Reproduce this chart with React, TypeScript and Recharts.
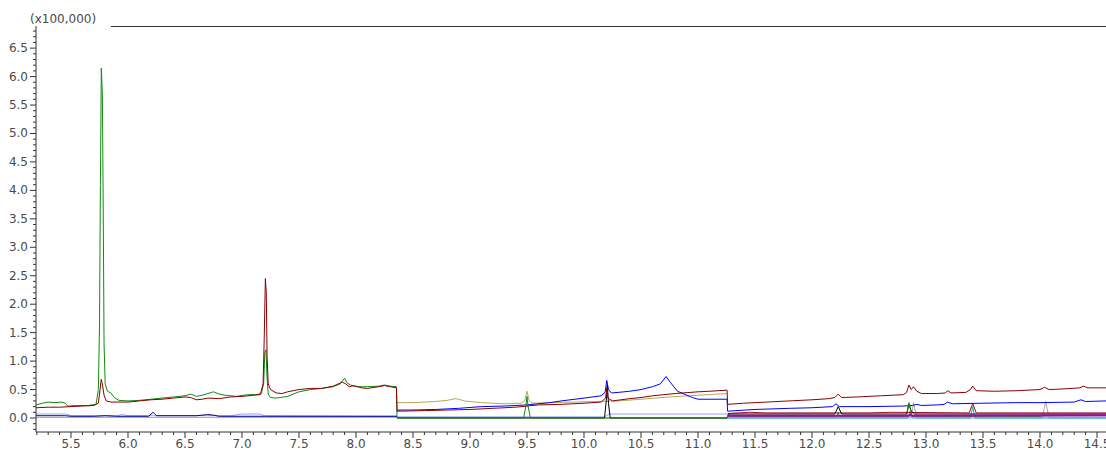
import { Line, LineChart, XAxis, YAxis } from 'recharts';

type Pt = [number, number];

// retention time window (min) and intensity window (x100,000)
const T_START = 5.193;
const T_END = 14.579;
const Y_MIN = -0.246;
const Y_MAX = 6.889;

const xLabels = ['5.5', '6.0', '6.5', '7.0', '7.5', '8.0', '8.5', '9.0', '9.5', '10.0', '10.5', '11.0', '11.5', '12.0', '12.5', '13.0', '13.5', '14.0', '14.5'];
const yLabels = ['0.0', '0.5', '1.0', '1.5', '2.0', '2.5', '3.0', '3.5', '4.0', '4.5', '5.0', '5.5', '6.0', '6.5'];

const greenTrace: Pt[] = [
  [5.193, 0.23], [5.25, 0.26], [5.3, 0.28], [5.36, 0.27], [5.42, 0.28], [5.45, 0.26], [5.47, 0.21],
  [5.55, 0.22], [5.65, 0.22], [5.72, 0.24], [5.74, 0.5], [5.75, 1.6], [5.758, 4.1], [5.766, 6.15],
  [5.775, 5.7], [5.783, 3.6], [5.79, 1.3], [5.8, 0.6], [5.82, 0.47], [5.85, 0.44], [5.88, 0.36],
  [5.92, 0.31], [6.0, 0.3], [6.1, 0.31], [6.2, 0.33], [6.3, 0.35], [6.4, 0.37], [6.5, 0.39],
  [6.55, 0.42], [6.6, 0.38], [6.65, 0.4], [6.7, 0.43], [6.75, 0.46], [6.8, 0.42], [6.85, 0.4],
  [6.95, 0.38], [7.05, 0.41], [7.12, 0.41], [7.17, 0.43], [7.19, 0.6], [7.2, 1.15], [7.21, 1.2],
  [7.22, 0.7], [7.23, 0.42], [7.25, 0.36], [7.3, 0.35], [7.4, 0.38], [7.5, 0.46], [7.6, 0.5],
  [7.7, 0.52], [7.8, 0.55], [7.86, 0.6], [7.9, 0.7], [7.92, 0.62], [7.95, 0.58], [8.0, 0.55],
  [8.1, 0.55], [8.2, 0.56], [8.25, 0.58], [8.3, 0.56], [8.355, 0.55], [8.36, 0.0], [9.47, 0.0],
  [9.49, 0.2], [9.5, 0.38], [9.51, 0.2], [9.53, 0.0], [11.255, 0.0], [11.26, 0.03], [12.22, 0.03],
  [12.23, 0.1], [12.24, 0.03], [12.83, 0.03], [12.85, 0.27], [12.87, 0.1], [12.88, 0.03],
  [14.0, 0.03], [14.1, 0.07], [14.579, 0.07],
];

const maroonTrace: Pt[] = [
  [5.193, 0.18], [5.3, 0.19], [5.4, 0.19], [5.5, 0.2], [5.6, 0.21], [5.7, 0.22], [5.74, 0.26],
  [5.755, 0.5], [5.765, 0.68], [5.775, 0.6], [5.79, 0.4], [5.81, 0.3], [5.85, 0.28], [6.0, 0.28],
  [6.1, 0.3], [6.2, 0.32], [6.3, 0.33], [6.4, 0.35], [6.5, 0.37], [6.55, 0.36], [6.6, 0.32],
  [6.65, 0.33], [6.7, 0.35], [6.8, 0.34], [6.9, 0.37], [7.0, 0.38], [7.1, 0.4], [7.16, 0.41],
  [7.185, 0.6], [7.195, 1.4], [7.205, 2.45], [7.213, 2.2], [7.22, 1.1], [7.23, 0.6], [7.25, 0.5],
  [7.3, 0.44], [7.35, 0.43], [7.4, 0.46], [7.5, 0.5], [7.6, 0.52], [7.7, 0.52], [7.8, 0.56],
  [7.88, 0.63], [7.91, 0.6], [7.94, 0.55], [7.98, 0.57], [8.05, 0.53], [8.1, 0.52], [8.2, 0.55],
  [8.25, 0.57], [8.3, 0.55], [8.355, 0.53], [8.36, 0.12], [8.6, 0.13], [8.8, 0.14], [9.0, 0.15],
  [9.2, 0.17], [9.4, 0.19], [9.6, 0.23], [9.8, 0.24], [10.0, 0.26], [10.15, 0.28], [10.19, 0.35],
  [10.2, 0.52], [10.21, 0.35], [10.25, 0.3], [10.4, 0.34], [10.5, 0.36], [10.6, 0.39], [10.8, 0.43],
  [11.0, 0.46], [11.1, 0.47], [11.255, 0.49], [11.26, 0.24], [11.4, 0.26], [11.6, 0.28],
  [11.8, 0.3], [12.0, 0.32], [12.15, 0.34], [12.2, 0.36], [12.23, 0.42], [12.26, 0.36],
  [12.4, 0.37], [12.6, 0.39], [12.8, 0.41], [12.83, 0.45], [12.85, 0.58], [12.87, 0.5],
  [12.89, 0.55], [12.92, 0.47], [12.96, 0.43], [13.1, 0.43], [13.17, 0.44], [13.19, 0.48],
  [13.22, 0.44], [13.35, 0.45], [13.39, 0.5], [13.41, 0.56], [13.44, 0.48], [13.6, 0.47],
  [13.8, 0.48], [14.0, 0.5], [14.04, 0.54], [14.08, 0.5], [14.2, 0.51], [14.35, 0.53],
  [14.38, 0.56], [14.42, 0.53], [14.579, 0.53],
];

const blueTrace: Pt[] = [
  [8.36, 0.14], [8.5, 0.14], [8.7, 0.15], [8.9, 0.17], [9.1, 0.2], [9.3, 0.21], [9.5, 0.23],
  [9.7, 0.27], [9.8, 0.3], [10.0, 0.35], [10.15, 0.39], [10.185, 0.45], [10.2, 0.66],
  [10.215, 0.5], [10.24, 0.44], [10.3, 0.45], [10.4, 0.47], [10.5, 0.5], [10.6, 0.55],
  [10.67, 0.6], [10.72, 0.73], [10.76, 0.62], [10.82, 0.47], [10.95, 0.36], [11.0, 0.33],
  [11.255, 0.33], [11.26, 0.12], [11.5, 0.15], [11.8, 0.17], [12.0, 0.18], [12.18, 0.2],
  [12.21, 0.25], [12.24, 0.2], [12.5, 0.2], [12.8, 0.21], [12.88, 0.22], [12.92, 0.24],
  [12.96, 0.22], [13.1, 0.23], [13.16, 0.24], [13.19, 0.28], [13.23, 0.25], [13.5, 0.26],
  [13.8, 0.27], [14.0, 0.27], [14.3, 0.28], [14.36, 0.32], [14.4, 0.29], [14.579, 0.3],
];

const oliveTrace: Pt[] = [
  [8.36, 0.27], [8.5, 0.27], [8.6, 0.28], [8.7, 0.29], [8.8, 0.31], [8.87, 0.34], [8.9, 0.33],
  [8.95, 0.3], [9.1, 0.27], [9.3, 0.25], [9.45, 0.26], [9.48, 0.3], [9.5, 0.47], [9.52, 0.3],
  [9.55, 0.26], [9.7, 0.27], [9.9, 0.28], [10.1, 0.29], [10.3, 0.3], [10.5, 0.33], [10.75, 0.37],
  [11.0, 0.4], [11.255, 0.43],
];

const navyTrace: Pt[] = [
  [5.193, 0.04], [5.45, 0.04], [5.5, 0.03], [5.7, 0.03], [5.8, 0.04], [5.9, 0.03], [6.18, 0.03],
  [6.22, 0.1], [6.25, 0.04], [6.6, 0.04], [6.7, 0.06], [6.75, 0.05], [6.8, 0.03], [7.2, 0.03],
  [8.36, 0.03],
];

const lavenderTrace: Pt[] = [
  [5.193, 0.07], [5.45, 0.07], [5.5, 0.04], [5.9, 0.04], [5.95, 0.06], [6.0, 0.04], [6.9, 0.04],
  [7.0, 0.07], [7.15, 0.07], [7.2, 0.04], [8.36, 0.03], [8.37, 0.02], [10.18, 0.02],
  [10.22, 0.07], [11.255, 0.07], [11.26, 0.02], [14.579, 0.02],
];

const greyTrace: Pt[] = [
  [5.193, 0.01], [8.36, 0.01], [11.26, 0.0], [12.87, 0.0], [12.89, 0.27], [12.92, 0.0],
  [14.02, 0.0], [14.05, 0.29], [14.08, 0.0], [14.579, 0.0],
];

const blackTrace: Pt[] = [
  [8.36, 0.0], [10.18, 0.0], [10.195, 0.3], [10.205, 0.58], [10.215, 0.25], [10.23, 0.0],
  [11.255, 0.0], [11.27, 0.07], [12.2, 0.07], [12.23, 0.2], [12.26, 0.07], [12.83, 0.07],
  [12.85, 0.25], [12.87, 0.12], [12.9, 0.07], [14.579, 0.07],
];

const redTrace: Pt[] = [
  [11.26, 0.08], [11.45, 0.1], [11.6, 0.09], [12.5, 0.09], [12.7, 0.1], [13.38, 0.09],
  [13.41, 0.26], [13.44, 0.09], [14.579, 0.09],
];

const magentaTrace: Pt[] = [
  [11.26, 0.04], [12.85, 0.04], [12.86, 0.06], [12.88, 0.04], [14.579, 0.05],
];

const cyanTrace: Pt[] = [
  [11.26, 0.0], [12.84, 0.0], [12.86, 0.12], [12.88, 0.0], [13.39, 0.0], [13.41, 0.2],
  [13.43, 0.0], [14.579, 0.0],
];

const traces: { name: string; color: string; width: number; points: Pt[] }[] = [
  { name: 'grey', color: '#a8a8a8', width: 1, points: greyTrace },
  { name: 'lavender', color: '#9aa2f2', width: 1, points: lavenderTrace },
  { name: 'navy', color: '#00008b', width: 1, points: navyTrace },
  { name: 'cyan', color: '#00b4b4', width: 1, points: cyanTrace },
  { name: 'red', color: '#a01020', width: 1, points: redTrace },
  { name: 'olive', color: '#b2aa5c', width: 1, points: oliveTrace },
  { name: 'blue', color: '#0000ff', width: 1, points: blueTrace },
  { name: 'black', color: '#000000', width: 1, points: blackTrace },
  { name: 'green', color: '#118a11', width: 1, points: greenTrace },
  { name: 'magenta', color: '#b000b0', width: 2, points: magentaTrace },
  { name: 'maroon', color: '#8b0000', width: 1, points: maroonTrace },
];

const xTicks = Array.from({ length: 94 }, (_, i) => Math.round((5.2 + i * 0.1) * 10) / 10);
const yTicks = Array.from({ length: 71 }, (_, i) => Math.round((-0.2 + i * 0.1) * 10) / 10);

const FONT = '"DejaVu Sans", Verdana, sans-serif';
const AXIS = '#333';
const TEXT = '#4a4a4a';

const labelFor = (labels: string[], v: number) =>
  labels.find((l) => Math.abs(parseFloat(l) - v) < 1e-6);

function XTick({ x, y, payload }: any) {
  const label = labelFor(xLabels, payload.value);
  return (
    <g>
      <line x1={x} x2={x} y1={y} y2={y + (label ? 6 : 3)} stroke={AXIS} />
      {label && (
        <text x={x} y={y + 16} textAnchor="middle" fontSize={12} fontFamily={FONT} fill={TEXT}>
          {label}
        </text>
      )}
    </g>
  );
}

function YTick({ x, y, payload }: any) {
  const label = labelFor(yLabels, payload.value);
  return (
    <g>
      <line x1={x} x2={x - (label ? 6 : 3)} y1={y} y2={y} stroke={AXIS} />
      {label && (
        <text x={x - 8} y={y + 4} textAnchor="end" fontSize={12} fontFamily={FONT} fill={TEXT}>
          {label}
        </text>
      )}
    </g>
  );
}

export default function App() {
  return (
    <div style={{ position: 'absolute', left: 0, top: 0, width: 1106, height: 450, background: '#fff' }}>
      <div
        style={{
          position: 'absolute',
          left: 30,
          top: 12,
          fontFamily: FONT,
          fontSize: 12,
          color: TEXT,
          lineHeight: '14px',
        }}
      >
        (x100,000)
      </div>
      <div style={{ position: 'absolute', left: 111, top: 26, width: 995, height: 1, background: AXIS }} />
      <LineChart width={1106} height={450} margin={{ top: 26, right: 0, bottom: 0, left: 0 }}>
        <XAxis
          type="number"
          dataKey="x"
          domain={[T_START, T_END]}
          allowDataOverflow
          ticks={xTicks}
          interval={0}
          tickSize={0}
          tickMargin={0}
          tickLine={false}
          height={18}
          axisLine={{ stroke: AXIS }}
          tick={(props: any) => <XTick {...props} />}
        />
        <YAxis
          type="number"
          domain={[Y_MIN, Y_MAX]}
          allowDataOverflow
          ticks={yTicks}
          interval={0}
          tickSize={0}
          tickMargin={0}
          tickLine={false}
          width={36}
          axisLine={{ stroke: AXIS }}
          tick={(props: any) => <YTick {...props} />}
        />
        {traces.map((t) => (
          <Line
            key={t.name}
            name={t.name}
            data={t.points.map(([x, y]) => ({ x, y }))}
            dataKey="y"
            type="linear"
            stroke={t.color}
            strokeWidth={t.width}
            dot={false}
            activeDot={false}
            isAnimationActive={false}
          />
        ))}
      </LineChart>
    </div>
  );
}
